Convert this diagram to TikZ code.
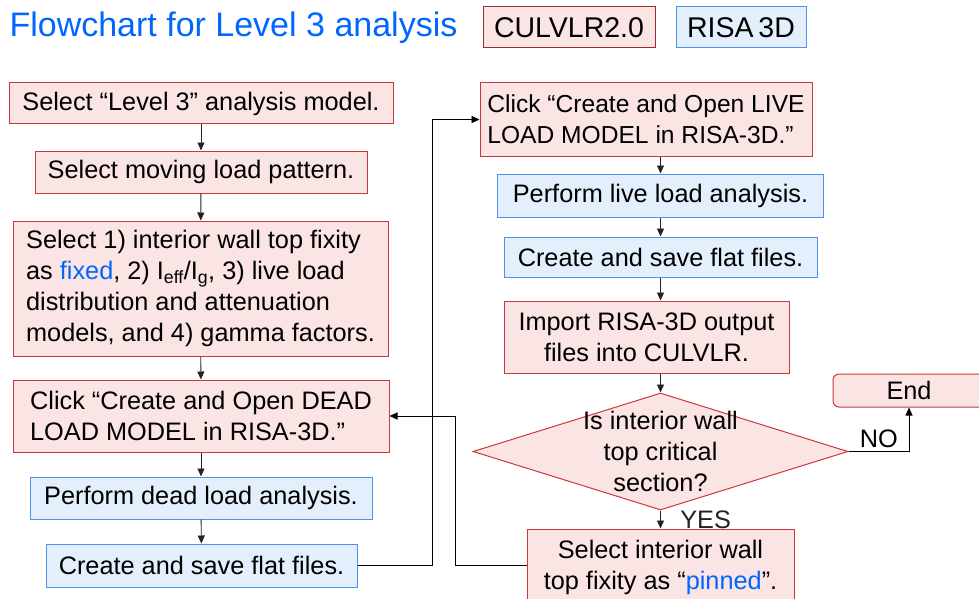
\documentclass[tikz,border=0pt]{standalone}
\usepackage{fontspec}
\setmainfont{Liberation Sans}
\usetikzlibrary{shapes.geometric, arrows.meta, positioning}
\definecolor{culred}{RGB}{205, 55, 60}
\definecolor{culfill}{RGB}{250, 228, 228}
\definecolor{legred}{RGB}{160, 45, 45}
\definecolor{risablue}{RGB}{80, 145, 240}
\definecolor{risafill}{RGB}{228, 239, 253}
\definecolor{titleblue}{RGB}{0, 102, 255}
\definecolor{linkgray}{RGB}{35, 35, 35}

\tikzset{
  txt/.style={font=\fontsize{25.3}{31}\selectfont},
  culbox/.style={txt, draw=culred, fill=culfill, line width=1pt, inner sep=0pt, align=center},
  risabox/.style={txt, draw=risablue, fill=risafill, line width=1pt, inner sep=0pt, align=center},
  flow/.style={-{Triangle[length=8pt, width=7pt]}, line width=0.9pt, linkgray}
}

\begin{document}
\begin{tikzpicture}[x=1pt, y=-1pt]
  \useasboundingbox (0, 0) rectangle (979, 599);
  \clip (0, 0) rectangle (979, 599);

  % Title and legend
  \node[anchor=west, titleblue, font=\fontsize{34}{40}\selectfont] (title) at (6, 28) {Flowchart for Level 3 analysis};
  \node[culbox, draw=legred, minimum width=172, minimum height=41, font=\fontsize{28.5}{34}\selectfont] (legcul) at (569, 27.5) {CULVLR2.0};
  \node[risabox, minimum width=130, minimum height=41, font=\fontsize{28.5}{34}\selectfont] (legrisa) at (741, 27.5) {RISA\,3D};

  % Left column
  \node[culbox, minimum width=384, minimum height=41] (level) at (201, 103.5) {Select “Level 3” analysis model.};
  \node[culbox, minimum width=332, minimum height=42] (pattern) at (201, 172) {Select moving load pattern.};
  \node[culbox, minimum width=375, minimum height=135, align=left] (options) at (200.5, 288.5)
    {Select 1) interior wall top fixity\\as {\color{titleblue}fixed}, 2) I\textsubscript{eff}/I\textsubscript{g}, 3) live load\\distribution and attenuation\\models, and 4) gamma factors.};
  \node[culbox, minimum width=376, minimum height=72, align=left] (deadmodel) at (201, 416)
    {Click “Create and Open DEAD\\LOAD MODEL in RISA-3D.”};
  \node[risabox, minimum width=342, minimum height=42] (deadrun) at (201, 498) {Perform dead load analysis.};
  \node[risabox, minimum width=311, minimum height=43] (deadflat) at (201.5, 565.5) {Create and save flat files.};

  % Right column
  \node[culbox, minimum width=332, minimum height=73, align=left, font=\fontsize{24.6}{31}\selectfont] (livemodel) at (646, 119.5)
    {Click “Create and Open LIVE\\LOAD MODEL in RISA-3D.”};
  \node[risabox, minimum width=326, minimum height=43] (liverun) at (660.5, 195.5) {Perform live load analysis.};
  \node[risabox, minimum width=313, minimum height=40] (liveflat) at (660.5, 257) {Create and save flat files.};
  \node[culbox, minimum width=285, minimum height=72] (import) at (646.5, 337) {Import RISA-3D output\\files into CULVLR.};
  \node[culbox, diamond, aspect=3.2, minimum width=375, minimum height=117,
    label={[txt, align=center]center:Is interior wall\\top critical\\section?}] (check) at (660.5, 451.5) {};
  \node[culbox, rounded corners=6pt, minimum width=152, minimum height=33] (finish) at (909, 390.5) {End};
  \node[culbox, minimum width=267, minimum height=76] (pinned) at (660.5, 567)
    {Select interior wall\\top fixity as “{\color{titleblue}pinned}”.};

  % Connectors
  \draw[flow] (level) -- (pattern);
  \draw[flow] (pattern) -- (options);
  \draw[flow] (options) -- (deadmodel);
  \draw[flow] (deadmodel) -- (deadrun);
  \draw[flow] (deadrun) -- (deadflat);
  \draw[flow, black] (deadflat.east) -- ++(75, 0) |- (livemodel.west);
  \draw[flow] (liverun.north |- livemodel.south) -- (liverun.north);
  \draw[flow] (liverun) -- (liveflat);
  \draw[flow] (liveflat.south) -- (liveflat.south |- import.north);
  \draw[flow] (check.north |- import.south) -- (check.north);
  \draw[flow, black] (check.east) -| (finish.south) node[pos=0.25, above, txt] {NO};
  \draw[flow] (check.south) -- (pinned.north) node[midway, right=16pt, txt] {YES};
  \draw[flow, black] (pinned.west |- 0, 565) -- ++(-71, 0) |- (deadmodel.east);
\end{tikzpicture}
\end{document}
